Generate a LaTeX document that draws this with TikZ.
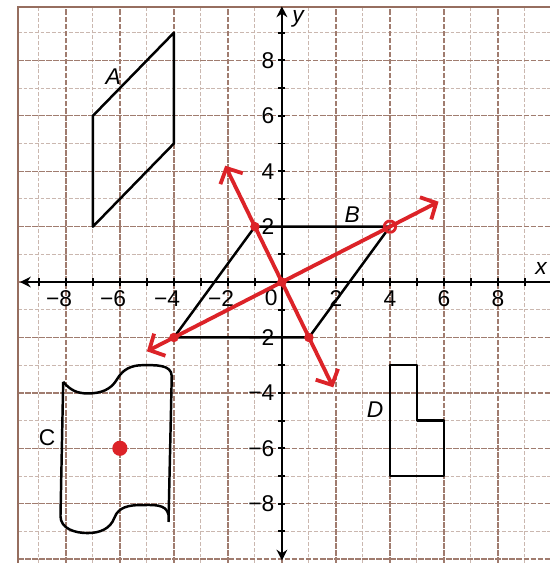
\documentclass[tikz,border=0pt]{standalone}
\usepackage{fontspec}
\setmainfont{Liberation Sans}
\usetikzlibrary{arrows.meta}
\definecolor{gridbrown}{RGB}{150,110,95}
\definecolor{penred}{RGB}{220,35,40}

\begin{document}
\begin{tikzpicture}[x=0.5cm,y=0.513cm,
  gridminor/.style={gridbrown!50,line width=0.5pt,dash pattern=on 2pt off 1pt},
  gridmajor/.style={gridbrown!90,line width=0.7pt,dash pattern=on 3pt off 0.7pt},
  axisline/.style={black,line width=1pt},
  shapeedge/.style={black,line width=1.3pt,line join=round},
  redline/.style={penred,line width=2pt,line cap=round,
    {Straight Barb[length=2.2mm,width=4.6mm,line width=2pt]}-{Straight Barb[length=2.2mm,width=4.6mm,line width=2pt]}},
  reddot/.style={circle,fill=penred,inner sep=0pt,minimum size=5pt},
  ticklab/.style={font=\large,inner sep=1pt},
  shapelab/.style={font=\large\itshape}
]
  \useasboundingbox[fill=white] (-10.44,-10.14) rectangle (9.93,10.18);

  % Graph paper
  \foreach \g in {-9,-7,...,9} {
    \draw[gridminor] (\g,-10.14) -- (\g,9.93);
    \draw[gridminor] (-9.78,\g) -- (9.93,\g);
  }
  \foreach \g in {-8,-6,...,8} {
    \draw[gridmajor] (\g,-10.14) -- (\g,9.93);
    \draw[gridmajor] (-9.78,\g) -- (9.93,\g);
  }
  \draw[gridmajor] (-9.78,-10) -- (9.93,-10);
  \draw[gridbrown,line width=0.8pt] (-9.78,-10.14) -- (-9.78,9.93) -- (9.93,9.93);

  % Axes
  \coordinate (xleft) at (-9.7,0);
  \coordinate (xright) at (9.93,0);
  \coordinate (ybottom) at (0,-10.05);
  \coordinate (ytop) at (0,9.95);
  \draw[axisline,{Stealth[length=2mm,width=2mm]}-] (xleft) -- (xright);
  \draw[axisline,{Stealth[length=2mm,width=2mm]}-{Stealth[length=2mm,width=2mm]}] (ybottom) -- (ytop);
  \foreach \t in {-9,...,9} {
    \draw[axisline] (\t,-0.13) -- (\t,0.13);
    \draw[axisline] (-0.13,\t) -- (0.13,\t);
  }
  \node[font=\large\itshape] (xname) at (9.6,0.5) {x};
  \node[font=\large\itshape] (yname) at (0.6,9.5) {y};

  % Tick labels
  \foreach \t in {8,6,4,2} {
    \node[ticklab] (xneg\t) at (-\t-0.25,-0.6) {−\t};
    \node[ticklab] (xpos\t) at (\t,-0.6) {\t};
    \node[ticklab,anchor=east] (ypos\t) at (-0.2,\t) {\t};
    \node[ticklab,anchor=east] (yneg\t) at (-0.2,-\t) {−\t};
  }
  \node[ticklab] (zero) at (-0.4,-0.55) {0};

  % Shape A
  \draw[shapeedge] (-7,2) -- (-7,6) -- (-4,9) -- (-4,5) -- cycle;
  \node[shapelab] (labA) at (-6.25,7.4) {A};

  % Shape B
  \coordinate (b1) at (-1,2);
  \coordinate (b2) at (4,2);
  \coordinate (b3) at (1,-2);
  \coordinate (b4) at (-4,-2);
  \draw[shapeedge] (b1) -- (b2) -- (b3) -- (b4) -- cycle;
  \node[shapelab] (labB) at (2.6,2.45) {B};

  % Shape C
  \draw[shapeedge] (-8.1,-3.6) to[out=-50,in=180] (-7.2,-4.02)
    to[out=0,in=-120] (-6.1,-3.5) to[out=60,in=180] (-5.15,-3.0)
    to[out=0,in=90] (-4.08,-3.4) -- (-4.2,-8.66);
  \draw[shapeedge] (-8.1,-3.6) -- (-8.2,-8.45) to[out=-90,in=180] (-7.2,-9.06)
    to[out=0,in=-110] (-6.2,-8.5) to[out=70,in=180] (-5.25,-8.05)
    to[out=0,in=100] (-4.2,-8.4);
  \node[font=\large] (labC) at (-8.7,-5.6) {C};
  \node[reddot,minimum size=8pt] (cdot) at (-6,-6) {};

  % Shape D
  \draw[shapeedge] (4,-3) -- (5,-3) -- (5,-5) -- (6,-5) -- (6,-7) -- (4,-7) -- cycle;
  \node[shapelab] (labD) at (3.45,-4.6) {D};

  % Red lines
  \coordinate (redA1) at (-5,-2.5);
  \coordinate (redA2) at (5.8,2.9);
  \coordinate (redB1) at (-2.1,4.2);
  \coordinate (redB2) at (1.9,-3.8);
  \draw[redline] (redA1) -- (redA2);
  \draw[redline] (redB1) -- (redB2);
  \node[reddot] (d1) at (b1) {};
  \node[reddot] (d3) at (b3) {};
  \node[reddot] (d4) at (b4) {};
  \node[reddot] (d0) at (0,0) {};
  \node[circle,draw=penred,line width=1.5pt,inner sep=0pt,minimum size=6pt] (d2) at (b2) {};
\end{tikzpicture}
\end{document}
